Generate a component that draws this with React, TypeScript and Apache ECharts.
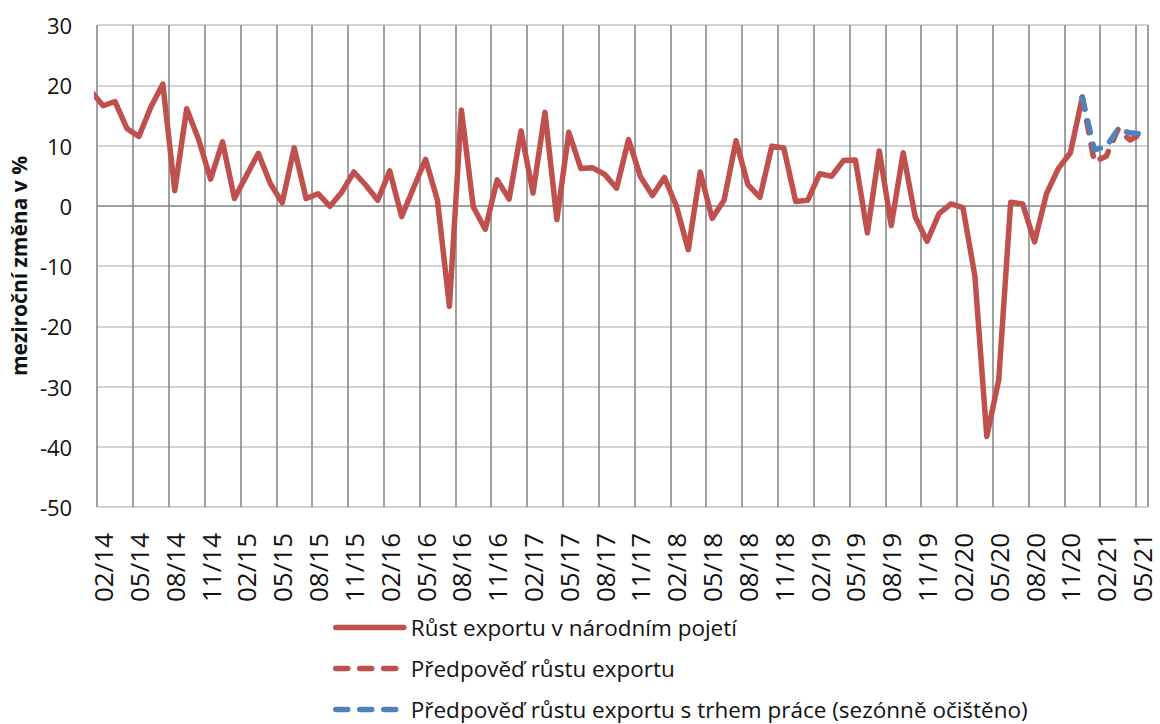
import React, { useEffect, useRef } from "react";
import * as echarts from "echarts";

// Monthly categories 01/14 .. 05/21 (01/14 lies just left of the visible axis start)
const categories = [
  "01/14", "02/14", "03/14", "04/14", "05/14", "06/14", "07/14", "08/14", "09/14", "10/14", "11/14", "12/14",
  "01/15", "02/15", "03/15", "04/15", "05/15", "06/15", "07/15", "08/15", "09/15", "10/15", "11/15", "12/15",
  "01/16", "02/16", "03/16", "04/16", "05/16", "06/16", "07/16", "08/16", "09/16", "10/16", "11/16", "12/16",
  "01/17", "02/17", "03/17", "04/17", "05/17", "06/17", "07/17", "08/17", "09/17", "10/17", "11/17", "12/17",
  "01/18", "02/18", "03/18", "04/18", "05/18", "06/18", "07/18", "08/18", "09/18", "10/18", "11/18", "12/18",
  "01/19", "02/19", "03/19", "04/19", "05/19", "06/19", "07/19", "08/19", "09/19", "10/19", "11/19", "12/19",
  "01/20", "02/20", "03/20", "04/20", "05/20", "06/20", "07/20", "08/20", "09/20", "10/20", "11/20", "12/20",
  "01/21", "02/21", "03/21", "04/21", "05/21",
];

// Růst exportu v národním pojetí, 01/14 .. 12/20
const exportGrowth = [
  19.0, 16.6, 17.3, 12.8, 11.5, 16.4, 20.2, 2.5, 16.1, 11.0, 4.4, 10.6,
  1.2, 5.0, 8.7, 3.7, 0.5, 9.6, 1.2, 2.0, -0.1, 2.3, 5.6, 3.4,
  0.9, 5.8, -1.8, 3.0, 7.7, 0.9, -16.7, 15.9, -0.2, -3.9, 4.3, 1.1,
  12.4, 2.1, 15.5, -2.3, 12.2, 6.2, 6.3, 5.2, 2.9, 11.0, 4.8, 1.7,
  4.7, 0.0, -7.3, 5.6, -2.1, 0.9, 10.8, 3.5, 1.4, 9.9, 9.6, 0.7,
  0.9, 5.3, 4.9, 7.5, 7.6, -4.5, 9.1, -3.3, 8.8, -1.8, -5.9, -1.3,
  0.3, -0.3, -11.6, -38.3, -28.9, 0.6, 0.3, -6.0, 2.0, 6.2, 8.8, 18.0,
];

// Forecasts, 12/20 .. 05/21
const forecastStart = "12/20";
const forecastExport = [18.0, 7.3, 8.2, 12.7, 10.9, 12.0];
const forecastLabour = [18.0, 9.3, 9.8, 12.7, 12.1, 11.9];

const yMin = -50;
const yMax = 30;
const yStep = 10;

const firstVisible = "02/14";
const labelEvery = 3;

const seriesNames = [
  "Růst exportu v národním pojetí",
  "Předpověď růstu exportu",
  "Předpověď růstu exportu s trhem práce (sezónně očištěno)",
];

const RED = "#C0504D";
const BLUE = "#4F81BD";
const FONT = "'Open Sans', 'Noto Sans', sans-serif";

export default function App() {
  const ref = useRef<HTMLDivElement>(null);

  useEffect(() => {
    document.body.style.margin = "0";
    if (!ref.current) return;
    const chart = echarts.init(ref.current, null, { renderer: "svg" });

    const startIdx = categories.indexOf(forecastStart);
    const firstIdx = categories.indexOf(firstVisible);
    const pad = (arr: number[]) =>
      categories.map((_, i) => (i >= startIdx && i - startIdx < arr.length ? arr[i - startIdx] : null));
    const shown = (idx: number) => idx >= firstIdx && (idx - firstIdx) % labelEvery === 0;

    const nLines = (yMax - yMin) / yStep + 1;
    const hColors = Array.from({ length: nLines }, (_, k) => (yMin + k * yStep === 0 ? "#808080" : "#c4c4c4"));

    const dash = [12, 12];

    chart.setOption({
      animation: false,
      backgroundColor: "#ffffff",
      textStyle: { fontFamily: FONT },
      grid: { left: 89, right: 12, top: 25, bottom: 217, containLabel: false },
      legend: {
        orient: "vertical",
        left: 333,
        top: 616,
        height: 110,
        padding: 0,
        itemWidth: 68,
        itemHeight: 14,
        itemGap: 18,
        itemStyle: { opacity: 0 },
        lineStyle: { width: 5.5, cap: "round" },
        textStyle: { fontSize: 22.5, color: "#111111", fontFamily: FONT, lineHeight: 22, padding: [0, 0, 0, 2] },
        data: seriesNames,
      },
      xAxis: {
        type: "category",
        data: categories,
        min: firstIdx,
        boundaryGap: true,
        axisLine: { show: false },
        axisTick: { show: false },
        axisLabel: {
          interval: (idx: number) => shown(idx),
          rotate: 90,
          fontSize: 26,
          lineHeight: 20,
          color: "#111111",
          fontFamily: FONT,
          margin: 26,
        },
        splitLine: {
          show: true,
          interval: (idx: number) => shown(idx),
          lineStyle: { color: "#808080", width: 1.5 },
        },
      },
      yAxis: {
        type: "value",
        min: yMin,
        max: yMax,
        interval: yStep,
        name: "meziroční změna v %",
        nameLocation: "middle",
        nameGap: 52,
        nameRotate: 90,
        nameTextStyle: { fontSize: 21, fontWeight: "bold", color: "#111111", fontFamily: FONT },
        axisLine: { show: false },
        axisTick: { show: false },
        axisLabel: { fontSize: 22, color: "#111111", fontFamily: FONT, margin: 25 },
        splitLine: { show: true, lineStyle: { color: hColors, width: 1.6 } },
      },
      series: [
        {
          name: seriesNames[0],
          type: "line",
          data: exportGrowth,
          symbol: "none",
          clip: true,
          lineStyle: { color: RED, width: 5.5, cap: "round", join: "round" },
          itemStyle: { color: RED },
        },
        {
          name: seriesNames[1],
          type: "line",
          data: pad(forecastExport),
          symbol: "none",
          clip: true,
          lineStyle: { color: RED, width: 5.5, type: dash, cap: "round", join: "round" },
          itemStyle: { color: RED },
        },
        {
          name: seriesNames[2],
          type: "line",
          data: pad(forecastLabour),
          symbol: "none",
          clip: true,
          lineStyle: { color: BLUE, width: 5.5, type: dash, cap: "round", join: "round" },
          itemStyle: { color: BLUE },
        },
      ],
    });

    return () => chart.dispose();
  }, []);

  return <div ref={ref} style={{ width: 1160, height: 724 }} />;
}
